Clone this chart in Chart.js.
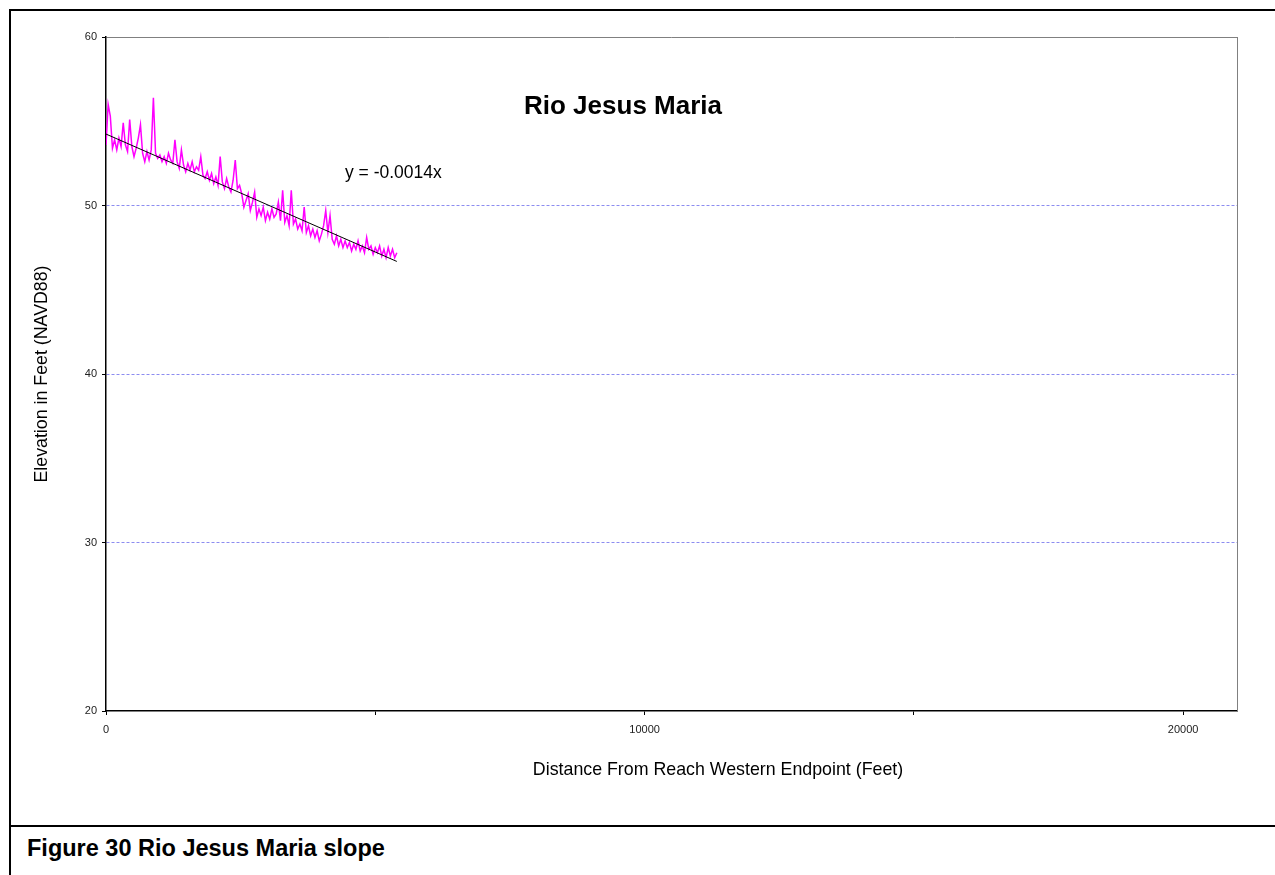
<!DOCTYPE html>
<html>
<head>
<meta charset="utf-8">
<script src="https://cdn.jsdelivr.net/npm/chart.js@4/dist/chart.umd.min.js"></script>
<style>
  html, body { margin: 0; padding: 0; background: #fff; width: 1275px; height: 875px; overflow: hidden; }
  #frame { position: absolute; left: 9px; top: 9px; width: 1290px; height: 900px; border-left: 2px solid #000; border-top: 2px solid #000; }
  #sep { position: absolute; left: 9px; top: 825px; width: 1290px; height: 0; border-top: 2px solid #000; }
  #caption { position: absolute; left: 27px; top: 835px; font: bold 23.5px "Liberation Sans", Arial, sans-serif; color: #000; white-space: nowrap; }
  #wrap { position: absolute; left: 0; top: 0; width: 1275px; height: 875px; }
</style>
</head>
<body>
<div id="frame"></div>
<div id="sep"></div>
<div id="caption">Figure 30 Rio Jesus Maria slope</div>
<div id="wrap"><canvas id="c" width="1275" height="875"></canvas></div>
<script>
// ---- data ----
const CHART_TITLE = "Rio Jesus Maria";
const X_TITLE = "Distance From Reach Western Endpoint (Feet)";
const Y_TITLE = "Elevation in Feet (NAVD88)";
const TREND_LABEL = "y = -0.0014x";
const TREND_SLOPE = -0.0014;
const TREND_INTERCEPT = 54.24;

const DIST = [0,40,80,120,160,200,240,280,320,360,400,440,480,520,560,600,640,680,720,760,
  800,840,880,920,960,1000,1040,1080,1120,1160,1200,1240,1280,1320,1360,1400,1440,1480,1520,1560,
  1600,1640,1680,1720,1760,1800,1840,1880,1920,1960,2000,2040,2080,2120,2160,2200,2240,2280,2320,2360,
  2400,2440,2480,2520,2560,2600,2640,2680,2720,2760,2800,2840,2880,2920,2960,3000,3040,3080,3120,3160,
  3200,3240,3280,3320,3360,3400,3440,3480,3520,3560,3600,3640,3680,3720,3760,3800,3840,3880,3920,3960,
  4000,4040,4080,4120,4160,4200,4240,4280,4320,4360,4400,4440,4480,4520,4560,4600,4640,4680,4720,4760,
  4800,4840,4880,4920,4960,5000,5040,5080,5120,5160,5200,5240,5280,5320,5360,5400];

const ELEV = [53.6,56.0,55.3,53.4,53.9,53.3,54.0,53.5,54.9,53.6,53.2,55.1,53.5,52.9,53.4,54.0,54.8,53.1,52.6,53.2,
  52.7,53.3,56.4,53.1,52.8,53.0,52.6,52.9,52.5,53.1,52.7,52.5,53.9,52.6,52.2,53.3,52.4,52.0,52.5,52.1,
  52.6,52.0,52.3,52.1,52.9,51.8,51.6,52.0,51.5,51.9,51.3,51.7,51.2,52.9,51.4,51.0,51.6,51.1,50.8,51.5,
  52.7,51.0,51.2,50.7,49.9,50.3,50.7,49.7,50.2,50.8,49.3,49.8,49.4,49.9,49.1,49.6,49.2,49.8,49.3,49.5,
  50.2,49.1,50.9,49.0,49.4,48.8,50.9,48.9,49.2,48.6,48.9,48.5,49.9,48.4,48.8,48.2,48.6,48.1,48.5,47.9,
  48.3,48.8,49.7,48.4,49.4,48.0,47.7,48.2,47.6,48.0,47.5,47.9,47.5,47.8,47.3,47.7,47.4,47.9,47.3,47.6,
  47.2,48.1,47.4,47.6,47.1,47.5,47.2,47.6,47.0,47.4,46.9,47.5,47.0,47.4,46.9,47.2];

const X_MIN = 0, X_MAX = 21000;
const X_TICKS = [0, 5000, 10000, 15000, 20000];
const X_TICK_LABELS = ["0", "", "10000", "", "20000"];
const Y_MIN = 20, Y_MAX = 60, Y_STEP = 10;

// ---- chart ----
const FONT = '"Liberation Sans", Arial, sans-serif';
const PLOT = { left: 106, top: 37, right: 1237, bottom: 711 };

const profile = DIST.map((d, i) => ({ x: d, y: ELEV[i] }));
const xEnd = DIST[DIST.length - 1];
const trend = [
  { x: 0, y: TREND_INTERCEPT },
  { x: xEnd, y: TREND_INTERCEPT + TREND_SLOPE * xEnd }
];

const textPlugin = {
  id: 'texts',
  afterDraw(chart) {
    const ctx = chart.ctx;
    const a = chart.chartArea;
    ctx.save();
    ctx.strokeStyle = '#808080';
    ctx.lineWidth = 1;
    ctx.beginPath();
    ctx.moveTo(Math.round(a.right) + 0.5, a.top);
    ctx.lineTo(Math.round(a.right) + 0.5, a.bottom);
    ctx.stroke();
    ctx.fillStyle = '#000';
    ctx.textBaseline = 'alphabetic';
    ctx.font = 'bold 26px ' + FONT;
    ctx.textAlign = 'center';
    ctx.fillText(CHART_TITLE, 623, 114);
    ctx.font = '17.5px ' + FONT;
    ctx.textAlign = 'left';
    ctx.fillText(TREND_LABEL, 345, 178);
    ctx.font = '17.8px ' + FONT;
    ctx.textAlign = 'center';
    ctx.textBaseline = 'middle';
    ctx.fillText(X_TITLE, 718, 770);
    ctx.translate(42, (a.top + a.bottom) / 2);
    ctx.rotate(-Math.PI / 2);
    ctx.fillText(Y_TITLE, 0, 0);
    ctx.restore();
  }
};

new Chart(document.getElementById('c'), {
  type: 'scatter',
  data: {
    datasets: [
      { label: 'Trend', data: trend, showLine: true, borderColor: '#000', borderWidth: 1,
        pointRadius: 0, order: 0 },
      { label: 'Profile', data: profile, showLine: true, borderColor: '#ff00ff', borderWidth: 1.5,
        pointRadius: 0, tension: 0, order: 1 }
    ]
  },
  options: {
    responsive: false,
    animation: false,
    events: [],
    layout: { padding: { left: 0, top: PLOT.top, right: 1275 - PLOT.right, bottom: 0 } },
    plugins: { legend: { display: false }, tooltip: { enabled: false }, title: { display: false } },
    scales: {
      x: {
        type: 'linear', min: X_MIN, max: X_MAX, bounds: 'data',
        afterFit: s => { s.height = 875 - PLOT.bottom; },
        afterBuildTicks: s => { s.ticks = X_TICKS.map(v => ({ value: v })); },
        ticks: {
          autoSkip: false, maxRotation: 0, minRotation: 0, padding: 8,
          color: '#222', font: { family: FONT, size: 11 },
          callback: (v, i) => X_TICK_LABELS[i] !== undefined ? X_TICK_LABELS[i] : ''
        },
        grid: { drawOnChartArea: false, drawTicks: true, tickLength: 4, tickColor: '#000', tickWidth: 1 },
        border: { display: true, color: '#000', width: 1.5 }
      },
      y: {
        type: 'linear', min: Y_MIN, max: Y_MAX,
        afterFit: s => { s.width = PLOT.left; },
        ticks: { stepSize: Y_STEP, padding: 5, color: '#222', font: { family: FONT, size: 11 } },
        grid: {
          drawTicks: true, tickLength: 4, tickColor: '#000', tickWidth: 1, lineWidth: 1,
          color: c => {
            const v = c.tick ? c.tick.value : null;
            if (v === Y_MAX) return '#808080';
            if (v === Y_MIN) return 'rgba(0,0,0,0)';
            return '#8c8cf0';
          }
        },
        border: {
          display: true, color: '#000', width: 1.5,
          dash: c => (c.tick && c.tick.value === Y_MAX ? [] : [3, 2])
        }
      }
    }
  },
  plugins: [textPlugin]
});
</script>
</body>
</html>
